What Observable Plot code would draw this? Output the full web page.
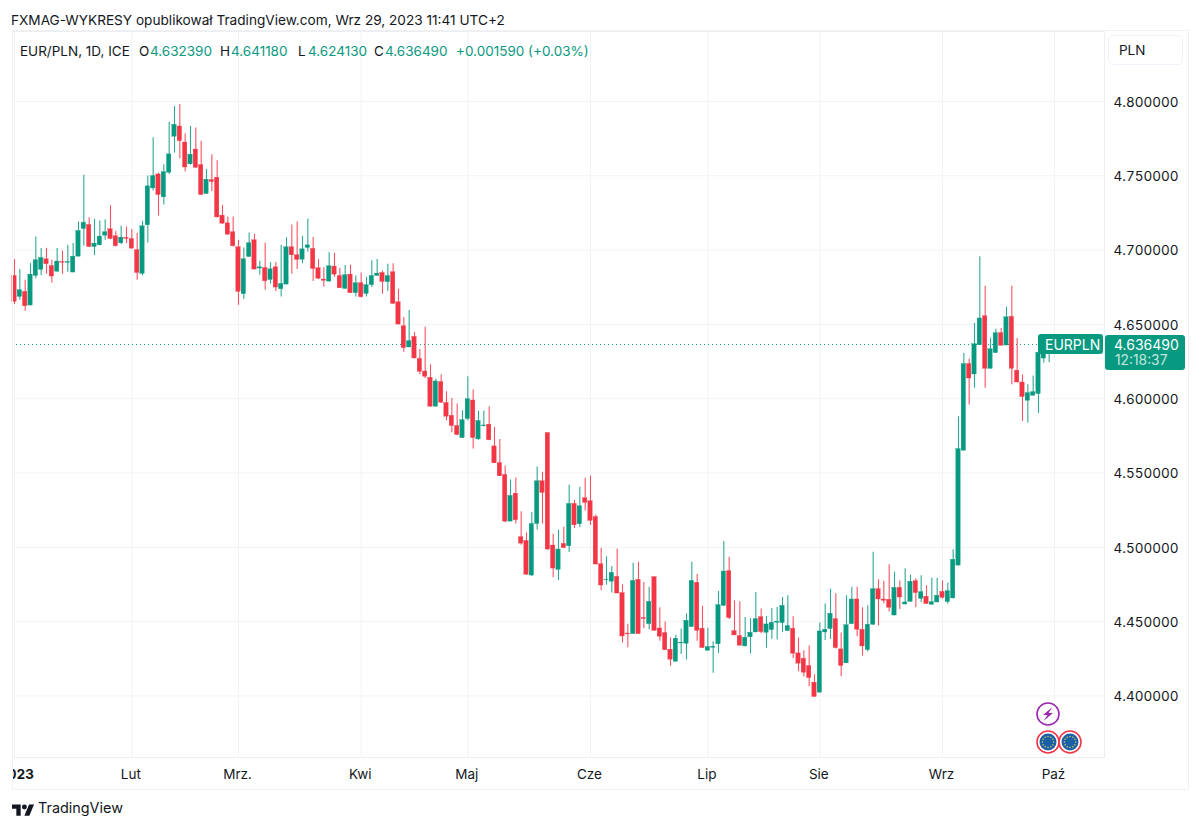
<!DOCTYPE html>
<html lang="pl">
<head>
<meta charset="utf-8">
<title>EUR/PLN</title>
<script src="https://cdn.jsdelivr.net/npm/d3@7"></script>
<script src="https://cdn.jsdelivr.net/npm/@observablehq/plot@0.6"></script>
<style>
html,body{margin:0;padding:0;background:#fff}
#page{position:relative;width:1200px;height:829px;overflow:hidden;font-family:Inter,"Noto Sans",sans-serif;color:#131722}
#page>svg{position:absolute;left:0;top:0}
.t{position:absolute;white-space:nowrap;line-height:1;font-size:13.5px}
.g{color:#089981}
.box{position:absolute;background:#089981;border-radius:3px}
</style>
</head>
<body>
<div id="page"></div>
<script>
const opens=[4.6826,4.6685,4.6719,4.6627,4.6826,4.6867,4.6938,4.6893,4.6855,4.6920,4.6914,4.6849,4.6956,4.7142,4.7169,4.7021,4.7032,4.7097,4.7140,4.7093,4.7046,4.7082,4.7075,4.6999,4.6840,4.7167,4.7415,4.7509,4.7355,4.7521,4.7763,4.7832,4.7724,4.7577,4.7677,4.7572,4.7377,4.7471,4.7487,4.7232,4.7180,4.7120,4.7019,4.6703,4.6954,4.7066,4.6876,4.6880,4.6799,4.6884,4.6737,4.6768,4.7019,4.6965,4.6936,4.7014,4.7008,4.6878,4.6802,4.6788,4.6889,4.6826,4.6739,4.6835,4.6710,4.6777,4.6705,4.6764,4.6826,4.6846,4.6784,4.6851,4.6649,4.6488,4.6345,4.6416,4.6268,4.6183,4.6141,4.5946,4.6112,4.5971,4.5885,4.5816,4.5735,4.5863,4.5988,4.5726,4.5814,4.5825,4.5679,4.5567,4.5487,4.5173,4.5361,4.5068,4.5043,4.4810,4.5157,4.5444,4.5769,4.5012,4.4848,4.5023,4.5007,4.5292,4.5155,4.5330,4.5310,4.5204,4.4886,4.4779,4.4768,4.4801,4.4692,4.4420,4.4416,4.4781,4.4524,4.4483,4.4799,4.4454,4.4423,4.4311,4.4230,4.4353,4.4351,4.4463,4.4761,4.4452,4.4304,4.4324,4.4347,4.4606,4.4839,4.4436,4.4403,4.4333,4.4394,4.4427,4.4530,4.4425,4.4443,4.4492,4.4490,4.4436,4.4452,4.4286,4.4250,4.4201,4.4089,4.4022,4.4427,4.4450,4.4517,4.4313,4.4219,4.4483,4.4649,4.4445,4.4308,4.4479,4.4718,4.4649,4.4647,4.4541,4.4727,4.4615,4.4633,4.4772,4.4653,4.4667,4.4613,4.4629,4.4700,4.4631,4.4656,4.4877,4.5650,4.6233,4.6163,4.6360,4.6555,4.6201,4.6307,4.6441,4.6358,4.6551,4.6188,4.6109,4.5986,4.6020,4.6031,4.6270,4.63239];
const closes=[4.6652,4.6730,4.6622,4.6835,4.6932,4.6947,4.6905,4.6822,4.6923,4.6914,4.6920,4.6956,4.7129,4.7185,4.7021,4.7044,4.7091,4.7120,4.7075,4.7026,4.7084,4.7075,4.7010,4.6846,4.7160,4.7429,4.7498,4.7371,4.7525,4.7644,4.7843,4.7733,4.7556,4.7642,4.7554,4.7371,4.7474,4.7458,4.7220,4.7178,4.7104,4.7026,4.6719,4.6938,4.7046,4.6869,4.6884,4.6790,4.6871,4.6748,4.6772,4.7019,4.6965,4.6934,4.7005,4.7032,4.6873,4.6808,4.6793,4.6891,4.6835,4.6743,4.6831,4.6710,4.6777,4.6683,4.6764,4.6826,4.6842,4.6786,4.6826,4.6638,4.6499,4.6340,4.6387,4.6271,4.6181,4.6148,4.5946,4.6116,4.5973,4.5879,4.5816,4.5756,4.5856,4.5997,4.5735,4.5850,4.5820,4.5720,4.5565,4.5478,4.5173,4.5346,4.5182,4.5025,4.4815,4.5157,4.5444,4.5366,4.4985,4.4857,4.4985,4.4994,4.5292,4.5148,4.5276,4.5299,4.5178,4.4884,4.4743,4.4783,4.4828,4.4689,4.4400,4.4414,4.4774,4.4416,4.4517,4.4633,4.4438,4.4398,4.4308,4.4244,4.4385,4.4358,4.4506,4.4774,4.4438,4.4322,4.4329,4.4331,4.4611,4.4837,4.4524,4.4407,4.4338,4.4391,4.4425,4.4517,4.4429,4.4481,4.4492,4.4499,4.4606,4.4470,4.4284,4.4217,4.4156,4.4120,4.3993,4.4434,4.4445,4.4553,4.4322,4.4201,4.4476,4.4649,4.4445,4.4333,4.4479,4.4718,4.4649,4.4640,4.4593,4.4727,4.4662,4.4629,4.4768,4.4692,4.4698,4.4618,4.4631,4.4674,4.4660,4.4705,4.4916,4.5661,4.6233,4.6136,4.6367,4.6540,4.6201,4.6333,4.6441,4.6356,4.6548,4.6201,4.6109,4.6011,4.6038,4.6044,4.6309,4.6349,4.63649];
const highs=[4.6936,4.6869,4.6797,4.6909,4.7088,4.7010,4.7012,4.6932,4.7010,4.6994,4.7032,4.7044,4.7189,4.7503,4.7218,4.7207,4.7196,4.7205,4.7299,4.7126,4.7160,4.7156,4.7138,4.7111,4.7194,4.7498,4.7756,4.7518,4.7574,4.7861,4.7966,4.7980,4.7783,4.7832,4.7821,4.7733,4.7543,4.7642,4.7601,4.7301,4.7223,4.7223,4.7066,4.7014,4.7115,4.7106,4.6925,4.7048,4.6916,4.6916,4.7032,4.7084,4.7169,4.7189,4.7093,4.7209,4.7084,4.6936,4.6882,4.6983,4.6979,4.6876,4.6896,4.6898,4.6826,4.6846,4.6817,4.6929,4.6936,4.6860,4.6905,4.6909,4.6737,4.6546,4.6593,4.6445,4.6331,4.6481,4.6228,4.6132,4.6161,4.6047,4.6002,4.5964,4.5919,4.6148,4.6058,4.5917,4.5917,4.5946,4.5807,4.5726,4.5547,4.5453,4.5467,4.5240,4.5097,4.5234,4.5540,4.5505,4.5769,4.5088,4.5115,4.5135,4.5417,4.5316,4.5404,4.5464,4.5478,4.5218,4.4994,4.4936,4.4871,4.4989,4.4748,4.4483,4.4893,4.4898,4.4763,4.4732,4.4801,4.4593,4.4497,4.4389,4.4409,4.4450,4.4553,4.4900,4.4817,4.4602,4.4456,4.4364,4.4703,4.5039,4.4933,4.4640,4.4633,4.4528,4.4521,4.4696,4.4584,4.4535,4.4588,4.4595,4.4662,4.4674,4.4532,4.4389,4.4304,4.4335,4.4143,4.4490,4.4618,4.4718,4.4687,4.4423,4.4674,4.4732,4.4732,4.4593,4.4606,4.4967,4.4781,4.4772,4.4882,4.4833,4.4774,4.4855,4.4812,4.4788,4.4808,4.4741,4.4792,4.4792,4.4774,4.4759,4.4983,4.5879,4.6304,4.6268,4.6506,4.6956,4.6757,4.6407,4.6468,4.6472,4.6616,4.6757,4.6405,4.6159,4.6094,4.6152,4.6316,4.6420,4.64118];
const lows=[4.6634,4.6663,4.6589,4.6625,4.6808,4.6828,4.6837,4.6779,4.6851,4.6837,4.6851,4.6847,4.6954,4.7028,4.7017,4.6963,4.7030,4.7066,4.7070,4.7021,4.7037,4.7044,4.7005,4.6797,4.6828,4.7048,4.7397,4.7229,4.7303,4.7509,4.7653,4.7615,4.7525,4.7572,4.7550,4.7368,4.7375,4.7395,4.7216,4.7173,4.7100,4.7021,4.6629,4.6667,4.6952,4.6867,4.6831,4.6730,4.6770,4.6721,4.6685,4.6766,4.6837,4.6869,4.6909,4.6988,4.6788,4.6802,4.6750,4.6786,4.6817,4.6741,4.6737,4.6708,4.6685,4.6678,4.6685,4.6748,4.6824,4.6703,4.6721,4.6636,4.6497,4.6313,4.6343,4.6267,4.6161,4.6134,4.5944,4.5944,4.5969,4.5850,4.5771,4.5751,4.5733,4.5852,4.5661,4.5720,4.5809,4.5718,4.5563,4.5476,4.5166,4.5171,4.5157,4.5014,4.4813,4.4803,4.5117,4.5157,4.4978,4.4795,4.4777,4.4992,4.4965,4.5126,4.5133,4.5245,4.5148,4.4882,4.4707,4.4745,4.4692,4.4687,4.4356,4.4324,4.4414,4.4414,4.4452,4.4443,4.4436,4.4367,4.4306,4.4199,4.4228,4.4279,4.4241,4.4461,4.4367,4.4320,4.4300,4.4152,4.4286,4.4602,4.4515,4.4405,4.4336,4.4331,4.4282,4.4425,4.4418,4.4320,4.4382,4.4376,4.4427,4.4434,4.4250,4.4163,4.4127,4.4062,4.3991,4.4020,4.4373,4.4380,4.4315,4.4129,4.4217,4.4481,4.4398,4.4268,4.4295,4.4474,4.4472,4.4620,4.4564,4.4539,4.4582,4.4613,4.4631,4.4593,4.4627,4.4616,4.4611,4.4627,4.4651,4.4616,4.4654,4.4875,4.5648,4.5957,4.6071,4.6358,4.6071,4.6199,4.6305,4.6354,4.6356,4.6094,4.6107,4.5847,4.5836,4.6018,4.5901,4.6239,4.62413];
const priceTicks=[4.4,4.45,4.5,4.55,4.6,4.65,4.7,4.75,4.8];
const monthIndex=[22,42,65,85,108,130,151,174,195];
const monthLabels=["Lut","Mrz.","Kwi","Maj","Cze","Lip","Sie","Wrz","Paź"];
const lastClose=closes[closes.length-1];
const header="FXMAG-WYKRESY opublikował TradingView.com, Wrz 29, 2023 11:41 UTC+2";
const legend=[["EUR/PLN, 1D, ICE",20,""],["O",139,""],["4.632390",150,"g"],["H",220,""],["4.641180",231,"g"],["L",298,""],["4.624130",308,"g"],["C",374,""],["4.636490",385,"g"],["+0.001590 (+0.03%)",456,"g"]];

const candles=d3.range(opens.length).map(i=>({i,open:opens[i],close:closes[i],high:highs[i],low:lows[i]}));
const up=candles.filter(d=>d.close>=d.open), down=candles.filter(d=>d.close<d.open);
const GREEN="#089981", RED="#F23645", GRID="#f2f3f5";
const wicks=(rows,c)=>Plot.ruleX(rows,{x:"i",y1:"low",y2:"high",stroke:c,strokeWidth:1.1,strokeOpacity:0.85});
const bodies=(rows,c)=>Plot.rect(rows,{x1:d=>d.i-0.41,x2:d=>d.i+0.41,y1:d=>Math.min(d.open,d.close),y2:d=>Math.max(d.open,d.close),fill:c,stroke:c,strokeWidth:0.3});

const chart=Plot.plot({
  width:1200,height:829,marginLeft:12,marginRight:96,marginTop:31,marginBottom:72,
  style:{fontFamily:'Inter,"Noto Sans",sans-serif',fontSize:"13.5px",color:"#131722",background:"transparent"},
  x:{domain:[-0.375,204.375],range:[12,1104]},
  y:{domain:[4.35855,4.84711],range:[757,31]},
  marks:[
    Plot.ruleY(priceTicks,{stroke:GRID,strokeWidth:1}),
    Plot.ruleX(monthIndex,{stroke:GRID,strokeWidth:1}),
    Plot.ruleX([0],{stroke:GRID,strokeWidth:1}),
    Plot.frame({stroke:"#eceef1",strokeWidth:1}),
    Plot.ruleY([lastClose],{stroke:GREEN,strokeWidth:1,strokeDasharray:"1 3"}),
    wicks(up,GREEN),wicks(down,RED),bodies(up,GREEN),bodies(down,RED),
    Plot.axisY(priceTicks,{anchor:"right",tickSize:0,tickPadding:9,label:null,tickFormat:d3.format(".6f"),dy:1}),
    Plot.axisX(monthIndex,{anchor:"bottom",tickSize:0,tickPadding:12,label:null,tickFormat:i=>monthLabels[monthIndex.indexOf(i)],dx:-1}),
    Plot.axisX([0],{anchor:"bottom",tickSize:0,tickPadding:12,label:null,tickFormat:()=>"2023",fontWeight:"bold",dx:2})
  ]
});
const page=document.getElementById("page");
page.appendChild(chart);
function add(html){const w=document.createElement("div");w.innerHTML=html;const e=w.firstElementChild;page.appendChild(e);return e;}
add(`<div style="position:absolute;left:0;top:758px;width:12px;height:28px;background:#fff"></div>`);
add(`<div style="position:absolute;left:12px;top:30px;width:1175px;height:758px;border:1px solid #f0f1f4;box-sizing:content-box;pointer-events:none"></div>`);
add(`<div class="t" style="left:11px;top:14px;font-size:13.64px">${header}</div>`);
legend.forEach(([s,x,c])=>add(`<div class="t ${c}" style="left:${x}px;top:45px">${s}</div>`));
add(`<div style="position:absolute;left:1108px;top:35px;width:75px;height:30px;box-sizing:border-box;border:1px solid #f0f3fa;border-radius:5px"></div>`);
add(`<div class="t" style="left:1119px;top:44px">PLN</div>`);
add(`<div class="box" style="left:1038px;top:334px;width:65px;height:20px"></div>`);
add(`<div class="t" style="left:1045px;top:338px;color:#fff;font-size:14px">EURPLN</div>`);
add(`<div class="box" style="left:1105px;top:335px;width:80px;height:35px"></div>`);
add(`<div class="t" style="left:1114px;top:338px;color:#fff;font-size:14px">4.636490</div>`);
add(`<div class="t" style="left:1115px;top:354px;color:#c5e6df;font-size:13.8px">12:18:37</div>`);
const flag=cx=>`<circle cx="${cx}" cy="742" r="11" fill="#fff" stroke="#F23645" stroke-width="1.6"/><circle cx="${cx}" cy="742" r="8.5" fill="#1a5fa8"/>`+
  d3.range(12).map(k=>`<circle cx="${(cx+5.6*Math.cos(k*Math.PI/6)).toFixed(2)}" cy="${(742+5.6*Math.sin(k*Math.PI/6)).toFixed(2)}" r="0.75" fill="#e5d54a"/>`).join("");
add(`<svg style="position:absolute;left:0;top:0" width="1200" height="829">
<circle cx="1048" cy="714" r="11" fill="#fff" stroke="#9c27b0" stroke-width="1.6"/>
<path d="M1052.5 707 L1043 715 L1047.5 715 L1043.5 721 L1053 713 L1048.5 713 Z" fill="#9c27b0"/>
${flag(1048)}${flag(1070)}
<g transform="translate(12,804.5) scale(0.62)" fill="#131722"><path d="M14 18H7V7H0V0h14v18zM28 18h-8L27.5 0h8L28 18z"/><circle cx="20" cy="4" r="4"/></g>
</svg>`);
add(`<div class="t" style="left:38px;top:801px;font-size:14.4px;font-family:Inter,sans-serif">TradingView</div>`);
</script>
</body>
</html>
